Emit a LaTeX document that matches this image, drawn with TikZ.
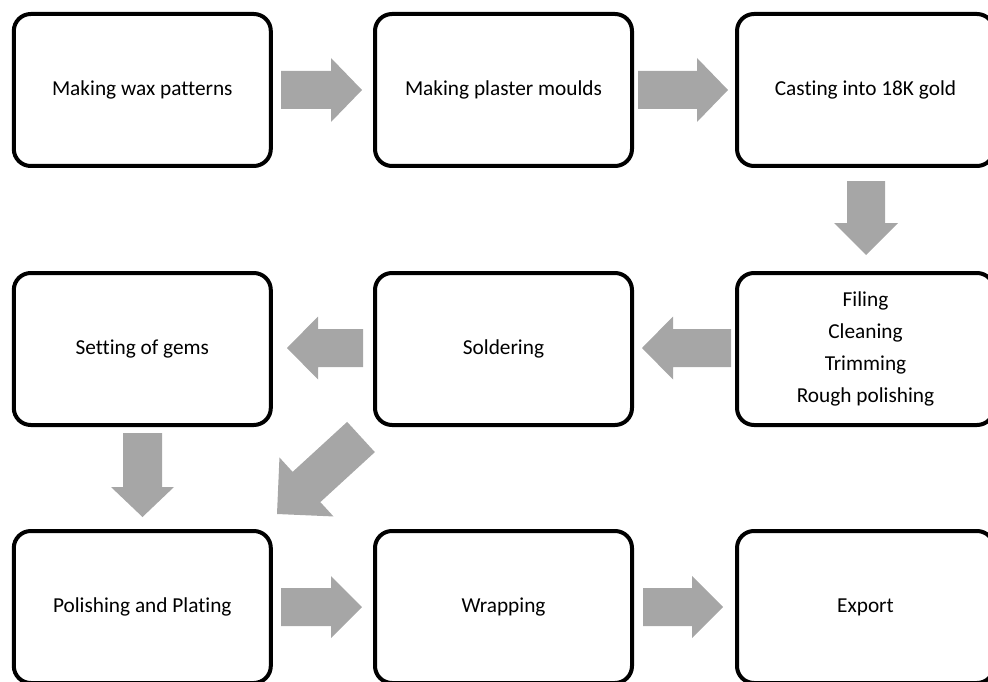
\documentclass[tikz,border=0pt]{standalone}
\usepackage{fontspec}
\setmainfont{Carlito}[Ligatures=NoCommon]
\usetikzlibrary{calc}
\definecolor{arrowgrey}{HTML}{A6A6A6}
\tikzset{
  stepbox/.style={draw=black, line width=4pt, rounded corners=17pt,
    minimum width=257pt, minimum height=152pt, inner sep=0pt,
    align=center, font=\fontsize{21.3}{32}\selectfont},
  blockarrow/.style={fill=arrowgrey, draw=none}
}
% #1 start, #2 tip, #3 shaft half width, #4 head half width, #5 head length
\newcommand{\blockarr}[5]{%
  \path ($(#2)!#5!(#1)$) coordinate (hb);
  \fill[blockarrow] ($(#1)!#3!90:(#2)$) -- ($(hb)!#3!90:(#2)$) -- ($(hb)!#4!90:(#2)$)
    -- (#2) -- ($(hb)!#4!-90:(#2)$) -- ($(hb)!#3!-90:(#2)$) -- ($(#1)!#3!-90:(#2)$) -- cycle;
}
\begin{document}
\begin{tikzpicture}[x=1pt,y=-1pt]
\useasboundingbox (0,0) rectangle (988,682);
\clip (0,0) rectangle (988,682);
% boxes
\node[stepbox] (wax)   at (142.3,90)  {Making wax patterns};
\node[stepbox] (mould) at (503.5,90)  {Making plaster moulds};
\node[stepbox] (cast)  at (865.5,90)  {Casting into 18K gold};
\node[stepbox] (file)  at (865.5,349) {Filing\\Cleaning\\Trimming\\Rough polishing};
\node[stepbox] (solder) at (503.5,349) {Soldering};
\node[stepbox] (gems)  at (142.3,349) {Setting of gems};
\node[stepbox] (polish) at (142.3,607) {Polishing and Plating};
\node[stepbox] (wrap)  at (503.5,607) {Wrapping};
\node[stepbox] (export) at (865.5,607) {Export};
% arrow end points
\coordinate (a1s) at (281,90);    \coordinate (a1e) at (362,90);
\coordinate (a2s) at (638,90);    \coordinate (a2e) at (728,90);
\coordinate (a3s) at (866,181);   \coordinate (a3e) at (866,255);
\coordinate (a4s) at (731,348);   \coordinate (a4e) at (642,348);
\coordinate (a5s) at (363,348);   \coordinate (a5e) at (287,348);
\coordinate (a6s) at (142.5,433); \coordinate (a6e) at (142.5,517);
\coordinate (a7s) at (361,437);   \coordinate (a7e) at (277,514);
\coordinate (a8s) at (281,607);   \coordinate (a8e) at (362,607);
\coordinate (a9s) at (643,607);   \coordinate (a9e) at (723,607);
% arrows
\blockarr{a1s}{a1e}{19pt}{32pt}{31pt}
\blockarr{a2s}{a2e}{19pt}{32pt}{31pt}
\blockarr{a3s}{a3e}{19pt}{32pt}{32pt}
\blockarr{a4s}{a4e}{19pt}{31.5pt}{31pt}
\blockarr{a5s}{a5e}{19pt}{31.5pt}{31pt}
\blockarr{a6s}{a6e}{19.5pt}{31.5pt}{30pt}
\blockarr{a7s}{a7e}{20.5pt}{40pt}{40pt}
\blockarr{a8s}{a8e}{19pt}{31pt}{31pt}
\blockarr{a9s}{a9e}{19pt}{31pt}{31pt}
\end{tikzpicture}
\end{document}
